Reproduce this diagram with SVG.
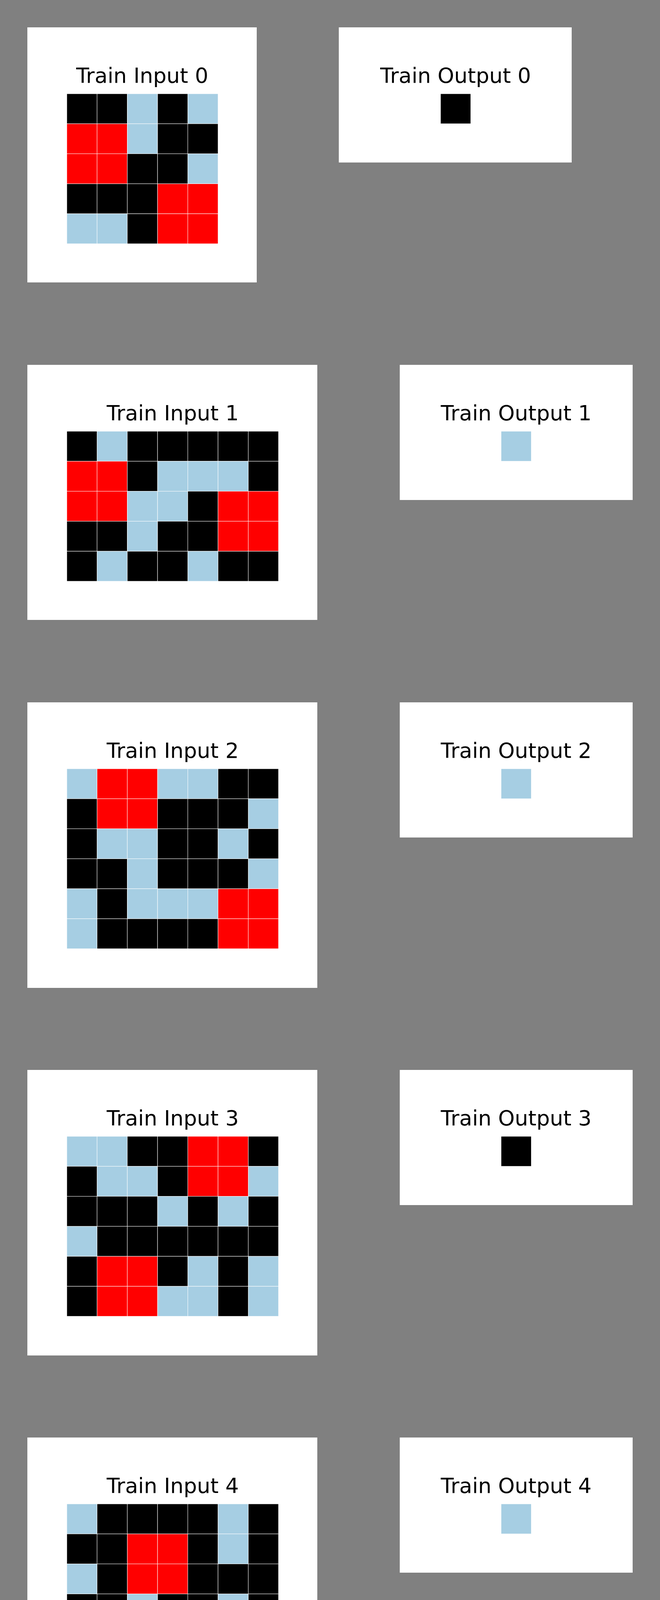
<svg xmlns="http://www.w3.org/2000/svg" width="1689" height="7612" viewBox="0 0 1689 7612">
<style>
.panel{fill:#ffffff}
.t{font-family:"DejaVu Sans","Liberation Sans",sans-serif;font-size:54px;fill:#000;text-anchor:middle}
.g rect{stroke:#ffffff;stroke-width:1;vector-effect:non-scaling-stroke}
.k{fill:#000000}.r{fill:#ff0000}.b{fill:#a6cee3}
</style>
<rect x="0" y="0" width="1689" height="7612" fill="#808080"/>

<g id="train-input-0">
<rect class="panel" x="70" y="70" width="587" height="653"/>
<text class="t" x="364" y="212">Train Input 0</text>
<g class="g" transform="translate(171,240) scale(77.4,76.8)">
<rect class="k" x="0" y="0" width="1" height="1"/><rect class="k" x="1" y="0" width="1" height="1"/><rect class="b" x="2" y="0" width="1" height="1"/><rect class="k" x="3" y="0" width="1" height="1"/><rect class="b" x="4" y="0" width="1" height="1"/>
<rect class="r" x="0" y="1" width="1" height="1"/><rect class="r" x="1" y="1" width="1" height="1"/><rect class="b" x="2" y="1" width="1" height="1"/><rect class="k" x="3" y="1" width="1" height="1"/><rect class="k" x="4" y="1" width="1" height="1"/>
<rect class="r" x="0" y="2" width="1" height="1"/><rect class="r" x="1" y="2" width="1" height="1"/><rect class="k" x="2" y="2" width="1" height="1"/><rect class="k" x="3" y="2" width="1" height="1"/><rect class="b" x="4" y="2" width="1" height="1"/>
<rect class="k" x="0" y="3" width="1" height="1"/><rect class="k" x="1" y="3" width="1" height="1"/><rect class="k" x="2" y="3" width="1" height="1"/><rect class="r" x="3" y="3" width="1" height="1"/><rect class="r" x="4" y="3" width="1" height="1"/>
<rect class="b" x="0" y="4" width="1" height="1"/><rect class="b" x="1" y="4" width="1" height="1"/><rect class="k" x="2" y="4" width="1" height="1"/><rect class="r" x="3" y="4" width="1" height="1"/><rect class="r" x="4" y="4" width="1" height="1"/>
</g>
</g>

<g id="train-output-0">
<rect class="panel" x="867" y="70" width="596" height="346"/>
<text class="t" x="1166" y="212">Train Output 0</text>
<g class="g" transform="translate(1127.3,240) scale(77.4,76.8)"><rect class="k" x="0" y="0" width="1" height="1"/></g>
</g>

<g id="train-input-1">
<rect class="panel" x="70" y="934" width="742" height="653"/>
<text class="t" x="442" y="1076">Train Input 1</text>
<g class="g" transform="translate(171,1104) scale(77.4,76.8)">
<rect class="k" x="0" y="0" width="1" height="1"/><rect class="b" x="1" y="0" width="1" height="1"/><rect class="k" x="2" y="0" width="1" height="1"/><rect class="k" x="3" y="0" width="1" height="1"/><rect class="k" x="4" y="0" width="1" height="1"/><rect class="k" x="5" y="0" width="1" height="1"/><rect class="k" x="6" y="0" width="1" height="1"/>
<rect class="r" x="0" y="1" width="1" height="1"/><rect class="r" x="1" y="1" width="1" height="1"/><rect class="k" x="2" y="1" width="1" height="1"/><rect class="b" x="3" y="1" width="1" height="1"/><rect class="b" x="4" y="1" width="1" height="1"/><rect class="b" x="5" y="1" width="1" height="1"/><rect class="k" x="6" y="1" width="1" height="1"/>
<rect class="r" x="0" y="2" width="1" height="1"/><rect class="r" x="1" y="2" width="1" height="1"/><rect class="b" x="2" y="2" width="1" height="1"/><rect class="b" x="3" y="2" width="1" height="1"/><rect class="k" x="4" y="2" width="1" height="1"/><rect class="r" x="5" y="2" width="1" height="1"/><rect class="r" x="6" y="2" width="1" height="1"/>
<rect class="k" x="0" y="3" width="1" height="1"/><rect class="k" x="1" y="3" width="1" height="1"/><rect class="b" x="2" y="3" width="1" height="1"/><rect class="k" x="3" y="3" width="1" height="1"/><rect class="k" x="4" y="3" width="1" height="1"/><rect class="r" x="5" y="3" width="1" height="1"/><rect class="r" x="6" y="3" width="1" height="1"/>
<rect class="k" x="0" y="4" width="1" height="1"/><rect class="b" x="1" y="4" width="1" height="1"/><rect class="k" x="2" y="4" width="1" height="1"/><rect class="k" x="3" y="4" width="1" height="1"/><rect class="b" x="4" y="4" width="1" height="1"/><rect class="k" x="5" y="4" width="1" height="1"/><rect class="k" x="6" y="4" width="1" height="1"/>
</g>
</g>

<g id="train-output-1">
<rect class="panel" x="1023" y="934" width="596" height="346"/>
<text class="t" x="1321" y="1076">Train Output 1</text>
<g class="g" transform="translate(1282.3,1104) scale(77.4,76.8)"><rect class="b" x="0" y="0" width="1" height="1"/></g>
</g>

<g id="train-input-2">
<rect class="panel" x="70" y="1798" width="742" height="731"/>
<text class="t" x="442" y="1940">Train Input 2</text>
<g class="g" transform="translate(171,1968) scale(77.4,76.8)">
<rect class="b" x="0" y="0" width="1" height="1"/><rect class="r" x="1" y="0" width="1" height="1"/><rect class="r" x="2" y="0" width="1" height="1"/><rect class="b" x="3" y="0" width="1" height="1"/><rect class="b" x="4" y="0" width="1" height="1"/><rect class="k" x="5" y="0" width="1" height="1"/><rect class="k" x="6" y="0" width="1" height="1"/>
<rect class="k" x="0" y="1" width="1" height="1"/><rect class="r" x="1" y="1" width="1" height="1"/><rect class="r" x="2" y="1" width="1" height="1"/><rect class="k" x="3" y="1" width="1" height="1"/><rect class="k" x="4" y="1" width="1" height="1"/><rect class="k" x="5" y="1" width="1" height="1"/><rect class="b" x="6" y="1" width="1" height="1"/>
<rect class="k" x="0" y="2" width="1" height="1"/><rect class="b" x="1" y="2" width="1" height="1"/><rect class="b" x="2" y="2" width="1" height="1"/><rect class="k" x="3" y="2" width="1" height="1"/><rect class="k" x="4" y="2" width="1" height="1"/><rect class="b" x="5" y="2" width="1" height="1"/><rect class="k" x="6" y="2" width="1" height="1"/>
<rect class="k" x="0" y="3" width="1" height="1"/><rect class="k" x="1" y="3" width="1" height="1"/><rect class="b" x="2" y="3" width="1" height="1"/><rect class="k" x="3" y="3" width="1" height="1"/><rect class="k" x="4" y="3" width="1" height="1"/><rect class="k" x="5" y="3" width="1" height="1"/><rect class="b" x="6" y="3" width="1" height="1"/>
<rect class="b" x="0" y="4" width="1" height="1"/><rect class="k" x="1" y="4" width="1" height="1"/><rect class="b" x="2" y="4" width="1" height="1"/><rect class="b" x="3" y="4" width="1" height="1"/><rect class="b" x="4" y="4" width="1" height="1"/><rect class="r" x="5" y="4" width="1" height="1"/><rect class="r" x="6" y="4" width="1" height="1"/>
<rect class="b" x="0" y="5" width="1" height="1"/><rect class="k" x="1" y="5" width="1" height="1"/><rect class="k" x="2" y="5" width="1" height="1"/><rect class="k" x="3" y="5" width="1" height="1"/><rect class="k" x="4" y="5" width="1" height="1"/><rect class="r" x="5" y="5" width="1" height="1"/><rect class="r" x="6" y="5" width="1" height="1"/>
</g>
</g>

<g id="train-output-2">
<rect class="panel" x="1023" y="1798" width="596" height="346"/>
<text class="t" x="1321" y="1940">Train Output 2</text>
<g class="g" transform="translate(1282.3,1968) scale(77.4,76.8)"><rect class="b" x="0" y="0" width="1" height="1"/></g>
</g>

<g id="train-input-3">
<rect class="panel" x="70" y="2739" width="742" height="731"/>
<text class="t" x="442" y="2881">Train Input 3</text>
<g class="g" transform="translate(171,2909) scale(77.4,76.8)">
<rect class="b" x="0" y="0" width="1" height="1"/><rect class="b" x="1" y="0" width="1" height="1"/><rect class="k" x="2" y="0" width="1" height="1"/><rect class="k" x="3" y="0" width="1" height="1"/><rect class="r" x="4" y="0" width="1" height="1"/><rect class="r" x="5" y="0" width="1" height="1"/><rect class="k" x="6" y="0" width="1" height="1"/>
<rect class="k" x="0" y="1" width="1" height="1"/><rect class="b" x="1" y="1" width="1" height="1"/><rect class="b" x="2" y="1" width="1" height="1"/><rect class="k" x="3" y="1" width="1" height="1"/><rect class="r" x="4" y="1" width="1" height="1"/><rect class="r" x="5" y="1" width="1" height="1"/><rect class="b" x="6" y="1" width="1" height="1"/>
<rect class="k" x="0" y="2" width="1" height="1"/><rect class="k" x="1" y="2" width="1" height="1"/><rect class="k" x="2" y="2" width="1" height="1"/><rect class="b" x="3" y="2" width="1" height="1"/><rect class="k" x="4" y="2" width="1" height="1"/><rect class="b" x="5" y="2" width="1" height="1"/><rect class="k" x="6" y="2" width="1" height="1"/>
<rect class="b" x="0" y="3" width="1" height="1"/><rect class="k" x="1" y="3" width="1" height="1"/><rect class="k" x="2" y="3" width="1" height="1"/><rect class="k" x="3" y="3" width="1" height="1"/><rect class="k" x="4" y="3" width="1" height="1"/><rect class="k" x="5" y="3" width="1" height="1"/><rect class="k" x="6" y="3" width="1" height="1"/>
<rect class="k" x="0" y="4" width="1" height="1"/><rect class="r" x="1" y="4" width="1" height="1"/><rect class="r" x="2" y="4" width="1" height="1"/><rect class="k" x="3" y="4" width="1" height="1"/><rect class="b" x="4" y="4" width="1" height="1"/><rect class="k" x="5" y="4" width="1" height="1"/><rect class="b" x="6" y="4" width="1" height="1"/>
<rect class="k" x="0" y="5" width="1" height="1"/><rect class="r" x="1" y="5" width="1" height="1"/><rect class="r" x="2" y="5" width="1" height="1"/><rect class="b" x="3" y="5" width="1" height="1"/><rect class="b" x="4" y="5" width="1" height="1"/><rect class="k" x="5" y="5" width="1" height="1"/><rect class="b" x="6" y="5" width="1" height="1"/>
</g>
</g>

<g id="train-output-3">
<rect class="panel" x="1023" y="2739" width="596" height="346"/>
<text class="t" x="1321" y="2881">Train Output 3</text>
<g class="g" transform="translate(1282.3,2909) scale(77.4,76.8)"><rect class="k" x="0" y="0" width="1" height="1"/></g>
</g>

<g id="train-input-4">
<rect class="panel" x="70" y="3680" width="742" height="731"/>
<text class="t" x="442" y="3822">Train Input 4</text>
<g class="g" transform="translate(171,3850) scale(77.4,76.8)">
<rect class="b" x="0" y="0" width="1" height="1"/><rect class="k" x="1" y="0" width="1" height="1"/><rect class="k" x="2" y="0" width="1" height="1"/><rect class="k" x="3" y="0" width="1" height="1"/><rect class="k" x="4" y="0" width="1" height="1"/><rect class="b" x="5" y="0" width="1" height="1"/><rect class="k" x="6" y="0" width="1" height="1"/>
<rect class="k" x="0" y="1" width="1" height="1"/><rect class="k" x="1" y="1" width="1" height="1"/><rect class="r" x="2" y="1" width="1" height="1"/><rect class="r" x="3" y="1" width="1" height="1"/><rect class="k" x="4" y="1" width="1" height="1"/><rect class="b" x="5" y="1" width="1" height="1"/><rect class="k" x="6" y="1" width="1" height="1"/>
<rect class="b" x="0" y="2" width="1" height="1"/><rect class="k" x="1" y="2" width="1" height="1"/><rect class="r" x="2" y="2" width="1" height="1"/><rect class="r" x="3" y="2" width="1" height="1"/><rect class="k" x="4" y="2" width="1" height="1"/><rect class="k" x="5" y="2" width="1" height="1"/><rect class="k" x="6" y="2" width="1" height="1"/>
<rect class="k" x="0" y="3" width="1" height="1"/><rect class="k" x="1" y="3" width="1" height="1"/><rect class="b" x="2" y="3" width="1" height="1"/><rect class="k" x="3" y="3" width="1" height="1"/><rect class="k" x="4" y="3" width="1" height="1"/><rect class="b" x="5" y="3" width="1" height="1"/><rect class="k" x="6" y="3" width="1" height="1"/>
<rect class="k" x="0" y="4" width="1" height="1"/><rect class="k" x="1" y="4" width="1" height="1"/><rect class="b" x="2" y="4" width="1" height="1"/><rect class="r" x="3" y="4" width="1" height="1"/><rect class="r" x="4" y="4" width="1" height="1"/><rect class="k" x="5" y="4" width="1" height="1"/><rect class="b" x="6" y="4" width="1" height="1"/>
<rect class="b" x="0" y="5" width="1" height="1"/><rect class="k" x="1" y="5" width="1" height="1"/><rect class="k" x="2" y="5" width="1" height="1"/><rect class="r" x="3" y="5" width="1" height="1"/><rect class="r" x="4" y="5" width="1" height="1"/><rect class="b" x="5" y="5" width="1" height="1"/><rect class="k" x="6" y="5" width="1" height="1"/>
</g>
</g>

<g id="train-output-4">
<rect class="panel" x="1023" y="3680" width="596" height="346"/>
<text class="t" x="1321" y="3822">Train Output 4</text>
<g class="g" transform="translate(1282.3,3850) scale(77.4,76.8)"><rect class="b" x="0" y="0" width="1" height="1"/></g>
</g>

<g id="train-input-5">
<rect class="panel" x="70" y="4621" width="665" height="731"/>
<text class="t" x="403" y="4763">Train Input 5</text>
<g class="g" transform="translate(171,4791) scale(77.4,76.8)">
<rect class="b" x="0" y="0" width="1" height="1"/><rect class="k" x="1" y="0" width="1" height="1"/><rect class="k" x="2" y="0" width="1" height="1"/><rect class="r" x="3" y="0" width="1" height="1"/><rect class="r" x="4" y="0" width="1" height="1"/><rect class="b" x="5" y="0" width="1" height="1"/>
<rect class="b" x="0" y="1" width="1" height="1"/><rect class="k" x="1" y="1" width="1" height="1"/><rect class="b" x="2" y="1" width="1" height="1"/><rect class="r" x="3" y="1" width="1" height="1"/><rect class="r" x="4" y="1" width="1" height="1"/><rect class="k" x="5" y="1" width="1" height="1"/>
<rect class="k" x="0" y="2" width="1" height="1"/><rect class="k" x="1" y="2" width="1" height="1"/><rect class="k" x="2" y="2" width="1" height="1"/><rect class="k" x="3" y="2" width="1" height="1"/><rect class="b" x="4" y="2" width="1" height="1"/><rect class="k" x="5" y="2" width="1" height="1"/>
<rect class="r" x="0" y="3" width="1" height="1"/><rect class="r" x="1" y="3" width="1" height="1"/><rect class="b" x="2" y="3" width="1" height="1"/><rect class="k" x="3" y="3" width="1" height="1"/><rect class="b" x="4" y="3" width="1" height="1"/><rect class="k" x="5" y="3" width="1" height="1"/>
<rect class="r" x="0" y="4" width="1" height="1"/><rect class="r" x="1" y="4" width="1" height="1"/><rect class="k" x="2" y="4" width="1" height="1"/><rect class="k" x="3" y="4" width="1" height="1"/><rect class="k" x="4" y="4" width="1" height="1"/><rect class="b" x="5" y="4" width="1" height="1"/>
<rect class="k" x="0" y="5" width="1" height="1"/><rect class="b" x="1" y="5" width="1" height="1"/><rect class="b" x="2" y="5" width="1" height="1"/><rect class="k" x="3" y="5" width="1" height="1"/><rect class="b" x="4" y="5" width="1" height="1"/><rect class="k" x="5" y="5" width="1" height="1"/>
</g>
</g>

<g id="train-output-5">
<rect class="panel" x="945" y="4621" width="597" height="345"/>
<text class="t" x="1244" y="4763">Train Output 5</text>
<g class="g" transform="translate(1205.3,4791) scale(77.4,76.8)"><rect class="k" x="0" y="0" width="1" height="1"/></g>
</g>

<g id="test-input-0">
<rect class="panel" x="70" y="5562" width="665" height="884"/>
<text class="t" x="403" y="5704">Test Input 0</text>
<g class="g" transform="translate(171,5732) scale(77.4,76.8)">
<rect class="r" x="0" y="0" width="1" height="1"/><rect class="r" x="1" y="0" width="1" height="1"/><rect class="b" x="2" y="0" width="1" height="1"/><rect class="b" x="3" y="0" width="1" height="1"/><rect class="k" x="4" y="0" width="1" height="1"/><rect class="b" x="5" y="0" width="1" height="1"/>
<rect class="r" x="0" y="1" width="1" height="1"/><rect class="r" x="1" y="1" width="1" height="1"/><rect class="k" x="2" y="1" width="1" height="1"/><rect class="b" x="3" y="1" width="1" height="1"/><rect class="k" x="4" y="1" width="1" height="1"/><rect class="k" x="5" y="1" width="1" height="1"/>
<rect class="b" x="0" y="2" width="1" height="1"/><rect class="b" x="1" y="2" width="1" height="1"/><rect class="k" x="2" y="2" width="1" height="1"/><rect class="k" x="3" y="2" width="1" height="1"/><rect class="k" x="4" y="2" width="1" height="1"/><rect class="b" x="5" y="2" width="1" height="1"/>
<rect class="k" x="0" y="3" width="1" height="1"/><rect class="b" x="1" y="3" width="1" height="1"/><rect class="b" x="2" y="3" width="1" height="1"/><rect class="b" x="3" y="3" width="1" height="1"/><rect class="k" x="4" y="3" width="1" height="1"/><rect class="k" x="5" y="3" width="1" height="1"/>
<rect class="b" x="0" y="4" width="1" height="1"/><rect class="k" x="1" y="4" width="1" height="1"/><rect class="b" x="2" y="4" width="1" height="1"/><rect class="k" x="3" y="4" width="1" height="1"/><rect class="k" x="4" y="4" width="1" height="1"/><rect class="b" x="5" y="4" width="1" height="1"/>
<rect class="k" x="0" y="5" width="1" height="1"/><rect class="k" x="1" y="5" width="1" height="1"/><rect class="b" x="2" y="5" width="1" height="1"/><rect class="r" x="3" y="5" width="1" height="1"/><rect class="r" x="4" y="5" width="1" height="1"/><rect class="k" x="5" y="5" width="1" height="1"/>
<rect class="b" x="0" y="6" width="1" height="1"/><rect class="k" x="1" y="6" width="1" height="1"/><rect class="k" x="2" y="6" width="1" height="1"/><rect class="r" x="3" y="6" width="1" height="1"/><rect class="r" x="4" y="6" width="1" height="1"/><rect class="k" x="5" y="6" width="1" height="1"/>
<rect class="k" x="0" y="7" width="1" height="1"/><rect class="b" x="1" y="7" width="1" height="1"/><rect class="k" x="2" y="7" width="1" height="1"/><rect class="k" x="3" y="7" width="1" height="1"/><rect class="k" x="4" y="7" width="1" height="1"/><rect class="b" x="5" y="7" width="1" height="1"/>
</g>
</g>

<g id="test-output-0">
<rect class="panel" x="945" y="5562" width="572" height="345"/>
<text class="t" x="1231" y="5704">Test Output 0</text>
<g class="g" transform="translate(1192.3,5732) scale(77.4,76.8)"><rect class="b" x="0" y="0" width="1" height="1"/></g>
</g>

<g id="test-input-1">
<rect class="panel" x="70" y="6657" width="665" height="885"/>
<text class="t" x="403" y="6799">Test Input 1</text>
<g class="g" transform="translate(171,6827) scale(77.4,76.8)">
<rect class="k" x="0" y="0" width="1" height="1"/><rect class="b" x="1" y="0" width="1" height="1"/><rect class="k" x="2" y="0" width="1" height="1"/><rect class="k" x="3" y="0" width="1" height="1"/><rect class="k" x="4" y="0" width="1" height="1"/><rect class="k" x="5" y="0" width="1" height="1"/>
<rect class="k" x="0" y="1" width="1" height="1"/><rect class="k" x="1" y="1" width="1" height="1"/><rect class="k" x="2" y="1" width="1" height="1"/><rect class="b" x="3" y="1" width="1" height="1"/><rect class="r" x="4" y="1" width="1" height="1"/><rect class="r" x="5" y="1" width="1" height="1"/>
<rect class="k" x="0" y="2" width="1" height="1"/><rect class="b" x="1" y="2" width="1" height="1"/><rect class="b" x="2" y="2" width="1" height="1"/><rect class="b" x="3" y="2" width="1" height="1"/><rect class="r" x="4" y="2" width="1" height="1"/><rect class="r" x="5" y="2" width="1" height="1"/>
<rect class="k" x="0" y="3" width="1" height="1"/><rect class="b" x="1" y="3" width="1" height="1"/><rect class="k" x="2" y="3" width="1" height="1"/><rect class="k" x="3" y="3" width="1" height="1"/><rect class="k" x="4" y="3" width="1" height="1"/><rect class="b" x="5" y="3" width="1" height="1"/>
<rect class="k" x="0" y="4" width="1" height="1"/><rect class="k" x="1" y="4" width="1" height="1"/><rect class="k" x="2" y="4" width="1" height="1"/><rect class="b" x="3" y="4" width="1" height="1"/><rect class="k" x="4" y="4" width="1" height="1"/><rect class="k" x="5" y="4" width="1" height="1"/>
<rect class="b" x="0" y="5" width="1" height="1"/><rect class="r" x="1" y="5" width="1" height="1"/><rect class="r" x="2" y="5" width="1" height="1"/><rect class="k" x="3" y="5" width="1" height="1"/><rect class="k" x="4" y="5" width="1" height="1"/><rect class="b" x="5" y="5" width="1" height="1"/>
<rect class="k" x="0" y="6" width="1" height="1"/><rect class="r" x="1" y="6" width="1" height="1"/><rect class="r" x="2" y="6" width="1" height="1"/><rect class="k" x="3" y="6" width="1" height="1"/><rect class="k" x="4" y="6" width="1" height="1"/><rect class="k" x="5" y="6" width="1" height="1"/>
<rect class="k" x="0" y="7" width="1" height="1"/><rect class="b" x="1" y="7" width="1" height="1"/><rect class="k" x="2" y="7" width="1" height="1"/><rect class="b" x="3" y="7" width="1" height="1"/><rect class="b" x="4" y="7" width="1" height="1"/><rect class="k" x="5" y="7" width="1" height="1"/>
</g>
</g>

<g id="test-output-1">
<rect class="panel" x="945" y="6657" width="572" height="345"/>
<text class="t" x="1231" y="6799">Test Output 1</text>
<g class="g" transform="translate(1192.3,6827) scale(77.4,76.8)"><rect class="k" x="0" y="0" width="1" height="1"/></g>
</g>

<g id="connectors"></g>
</svg>
